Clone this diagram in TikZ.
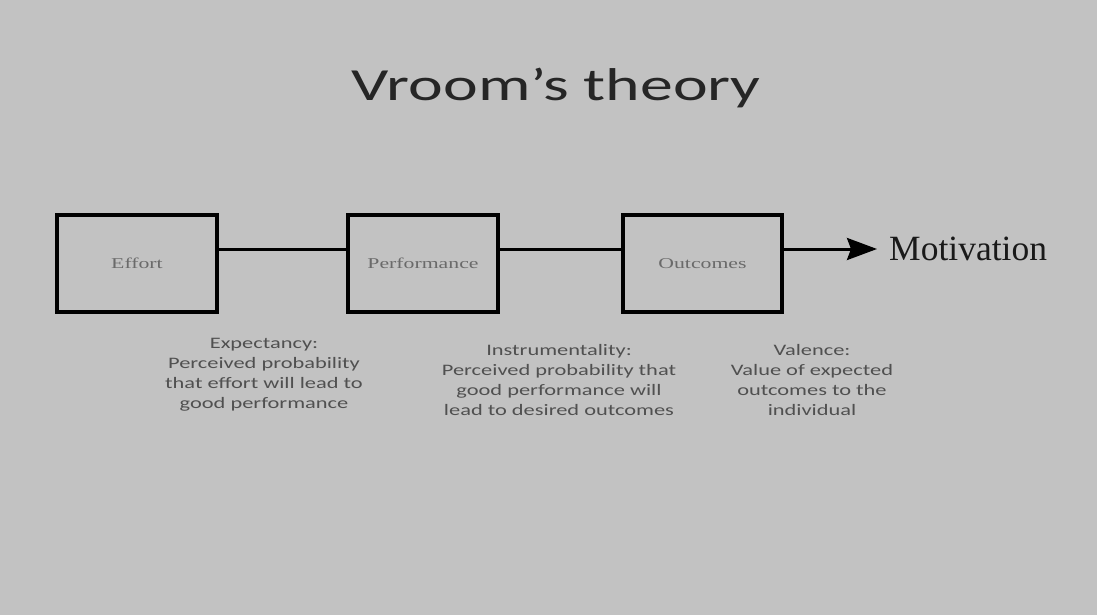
\documentclass[tikz,border=0pt]{standalone}
\usepackage{fontspec}
\setmainfont{Liberation Serif}
\newfontfamily\calib{Carlito}
\usetikzlibrary{arrows.meta}
\definecolor{bg}{HTML}{C2C2C2}
\definecolor{captxt}{HTML}{505050}
\definecolor{boxtxt}{HTML}{6A6A6A}
\begin{document}
\begin{tikzpicture}[x=1pt,y=-1pt,
  stage/.style={draw=black, line width=3.8pt, minimum height=97pt, inner sep=0pt,
    text=boxtxt, font=\fontsize{15}{18}\selectfont},
  link/.style={line width=3pt},
  caption/.style={align=center, text=captxt, font=\calib\fontsize{16}{20}\selectfont},
  heading/.style={font=\calib\fontsize{46}{50}\selectfont, text=black!85}]
\useasboundingbox (0,0) rectangle (1097,615);
\fill[bg] (0,0) rectangle (1097,615);
\node[heading] (title) at (556,88) {\scalebox{1.43}[1]{Vroom’s theory}};
\node[stage, minimum width=160pt] (effort) at (137,263.5) {\scalebox{1.45}[1]{Effort}};
\node[stage, minimum width=150pt] (perf) at (423,263.5) {\scalebox{1.45}[1]{Performance}};
\node[stage, minimum width=159pt] (outc) at (702.5,263.5) {\scalebox{1.45}[1]{Outcomes}};
\coordinate (tip) at (877,249);
\node[anchor=west, font=\fontsize{35.5}{40}\selectfont, text=black!90, inner sep=0pt] (motiv) at (889,249) {Motivation};
\draw[link] ([yshift=14.5pt]effort.east) -- ([yshift=14.5pt]perf.west);
\draw[link] ([yshift=14.5pt]perf.east) -- ([yshift=14.5pt]outc.west);
\draw[link, -{Stealth[length=30pt,width=22pt,inset=4pt]}] ([yshift=14.5pt]outc.east) -- (tip);
\node[caption] (expect) at (264,375) {\scalebox{1.4}[1]{Expectancy:}\\\scalebox{1.4}[1]{Perceived probability}\\\scalebox{1.4}[1]{that effort will lead to}\\\scalebox{1.4}[1]{good performance}};
\node[caption] (instr) at (559,380) {\scalebox{1.4}[1]{Instrumentality:}\\\scalebox{1.4}[1]{Perceived probability that}\\\scalebox{1.4}[1]{good performance will}\\\scalebox{1.4}[1]{lead to desired outcomes}};
\node[caption] (val) at (812,380) {\scalebox{1.4}[1]{Valence:}\\\scalebox{1.4}[1]{Value of expected}\\\scalebox{1.4}[1]{outcomes to the}\\\scalebox{1.4}[1]{individual}};
\end{tikzpicture}
\end{document}
